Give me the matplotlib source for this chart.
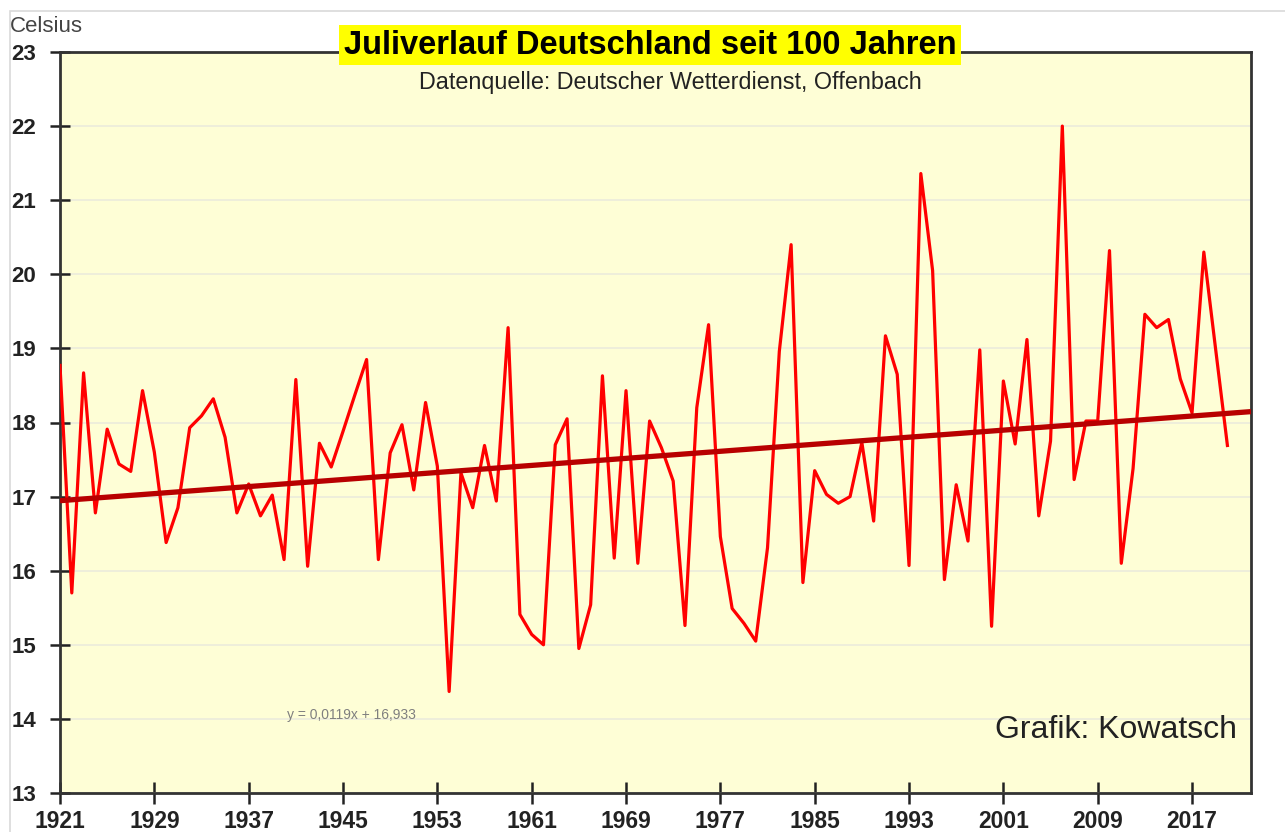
import numpy as np
import matplotlib.pyplot as plt
from matplotlib.patches import Rectangle

# Juli-Mitteltemperatur Deutschland (DWD)
years = list(range(1921, 2021))
temps = [
    18.77, 15.70, 18.67, 16.78, 17.91, 17.44, 17.34, 18.43, 17.60, 16.38,
    16.85, 17.93, 18.09, 18.32, 17.80, 16.78, 17.17, 16.74, 17.02, 16.15,
    18.58, 16.06, 17.72, 17.40, 17.88, 18.37, 18.85, 16.15, 17.59, 17.97,
    17.09, 18.27, 17.41, 14.37, 17.32, 16.85, 17.69, 16.94, 19.28, 15.41,
    15.14, 15.00, 17.70, 18.05, 14.95, 15.54, 18.63, 16.17, 18.43, 16.10,
    18.02, 17.66, 17.21, 15.26, 18.20, 19.32, 16.46, 15.49, 15.29, 15.05,
    16.31, 18.96, 20.40, 15.84, 17.35, 17.03, 16.91, 17.00, 17.73, 16.67,
    19.17, 18.65, 16.07, 21.36, 20.05, 15.88, 17.16, 16.40, 18.98, 15.25,
    18.56, 17.71, 19.12, 16.74, 17.75, 22.00, 17.23, 18.02, 18.02, 20.32,
    16.10, 17.38, 19.46, 19.28, 19.39, 18.59, 18.13, 20.30, 18.99, 17.69,
]

# Trendlinie laut Excel-Gleichung (x = 1 fuer 1921), 2 Jahre vorwärts verlängert
slope = 0.0119
intercept = 16.933
trend_years = list(range(1921, 2023))

xticks = list(range(1921, 2018, 8))
yticks = list(range(13, 24))

title = "Juliverlauf Deutschland seit 100 Jahren"
subtitle = "Datenquelle: Deutscher Wetterdienst, Offenbach"

plt.rcParams['font.family'] = ['Liberation Sans', 'DejaVu Sans']

fig = plt.figure(figsize=(12.85, 8.32), dpi=100)
fig.patches.append(Rectangle((10 / 1285, -0.1), 1.2, 1.1 - 11 / 832,
                             transform=fig.transFigure, fill=False,
                             edgecolor='#d9d9d9', lw=1.2))
ax = fig.add_axes([60 / 1285, 1 - 793 / 832, 1191 / 1285, 741 / 832])
ax.set_facecolor('#fefed6')

ax.plot(years, temps, color='#ff0000', lw=2.3, zorder=3)
tx = np.arange(1, len(trend_years) + 1)
ax.plot(trend_years, slope * tx + intercept, color='#b80000', lw=3.8,
        solid_capstyle='butt', zorder=4)

ax.set_xlim(1921, 2022)
ax.set_ylim(13, 23)
ax.set_xticks(xticks)
ax.set_yticks(yticks)
ax.grid(axis='y', color='#ebebdb', lw=1.2)
ax.set_axisbelow(True)
ax.tick_params(axis='y', direction='inout', length=14, width=1.8,
               labelsize=16, pad=10, colors='#222222')
ax.tick_params(axis='x', direction='inout', length=16, width=1.8,
               labelsize=16.5, pad=4, colors='#222222')
for lab in ax.get_xticklabels() + ax.get_yticklabels():
    lab.set_fontweight('bold')
for side in ['left', 'bottom', 'top', 'right']:
    ax.spines[side].set_color('#333333')
    ax.spines[side].set_linewidth(2.0)

fig.text(10 / 1285, 1 - 26 / 832, "Celsius", fontsize=16, color='#444444',
         va='center', ha='left')
fig.text(650 / 1285, 1 - 45 / 832, title, fontsize=23.5, fontweight='bold',
         ha='center', va='center', zorder=10,
         bbox=dict(facecolor='#ffff00', edgecolor='none', pad=3))
fig.text(670 / 1285, 1 - 82 / 832, subtitle, fontsize=16.8, color='#222222',
         ha='center', va='center')
ax.text(0.988, 0.085, "Grafik: Kowatsch", transform=ax.transAxes, fontsize=23,
        color='#222222', ha='right', va='center')
ax.text(1945.7, 14.05, "y = 0,0119x + 16,933", fontsize=10, color='#7f7f7f',
        ha='center', va='center')

fig.savefig('out.png', dpi=100)
